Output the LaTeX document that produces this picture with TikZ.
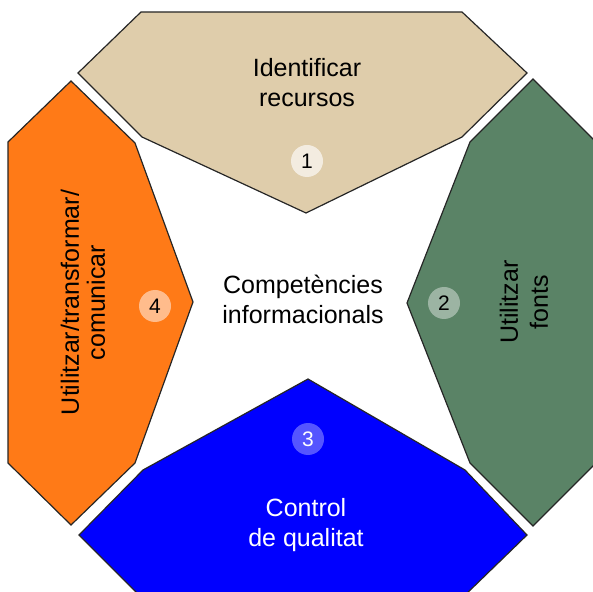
\documentclass[tikz,border=0pt]{standalone}
\usepackage{fontspec}
\setmainfont{Liberation Sans}
\usepackage{xcolor}
\usepackage{tikz}
\usetikzlibrary{calc}

\definecolor{tanfill}{HTML}{DFCDAB}
\definecolor{tandot}{HTML}{F3ECE0}
\definecolor{greenfill}{HTML}{5A8366}
\definecolor{greendot}{HTML}{9CB4A3}
\definecolor{bluefill}{HTML}{0000FF}
\definecolor{bluedot}{HTML}{5555FF}
\definecolor{orangefill}{HTML}{FF7A17}
\definecolor{orangedot}{HTML}{FFBC8C}
\definecolor{edge}{HTML}{262626}

\tikzset{
  petal/.style={draw=edge, line width=0.6pt},
  numdot/.style={circle, minimum size=16pt, inner sep=0pt, font=\fontsize{10.5}{12}\selectfont},
  txt/.style={align=center, inner sep=0pt, font=\fontsize{12.5}{15}\selectfont}
}

\begin{document}
\begin{tikzpicture}[x=0.5pt, y=-0.5pt]

\useasboundingbox (0,0) rectangle (593,592);
\clip (0,0) rectangle (593,592);

\filldraw[petal, fill=tanfill] (141,12) -- (462,12) -- (527,73) -- (462,137) -- (306,213) -- (142,137) -- (78,73) -- cycle;
\filldraw[petal, fill=greenfill] (533,79) -- (596,142) -- (596,463) -- (533,526) -- (470,463) -- (407,303) -- (470,142) -- cycle;
\filldraw[petal, fill=bluefill] (308,379) -- (465,470) -- (527,535) -- (462,598) -- (142,598) -- (79,535) -- (143,470) -- cycle;
\filldraw[petal, fill=orangefill] (71,81) -- (135,143) -- (193,302) -- (135,463) -- (71,525) -- (8,463) -- (8,142) -- cycle;

\node[txt] (recursos) at (307,83) {Identificar\\recursos};
\node[txt, rotate=90] (fonts) at (524,302) {Utilitzar\\fonts};
\node[txt, text=white] (qualitat) at (306,525) {Control\\de qualitat};
\node[txt, rotate=90, font=\fontsize{12.5}{13}\selectfont] (utilitzar) at (83,302.5) {Utilitzar/transformar/\\comunicar};
\node[txt] (centre) at (303,299) {Competències\\informacionals};

\node[numdot, fill=tandot] (n1) at (307,161) {1};
\node[numdot, fill=greendot] (n2) at (444,303) {2};
\node[numdot, fill=bluedot, text=white] (n3) at (308,439) {3};
\node[numdot, fill=orangedot] (n4) at (155,306) {4};

\end{tikzpicture}
\end{document}
